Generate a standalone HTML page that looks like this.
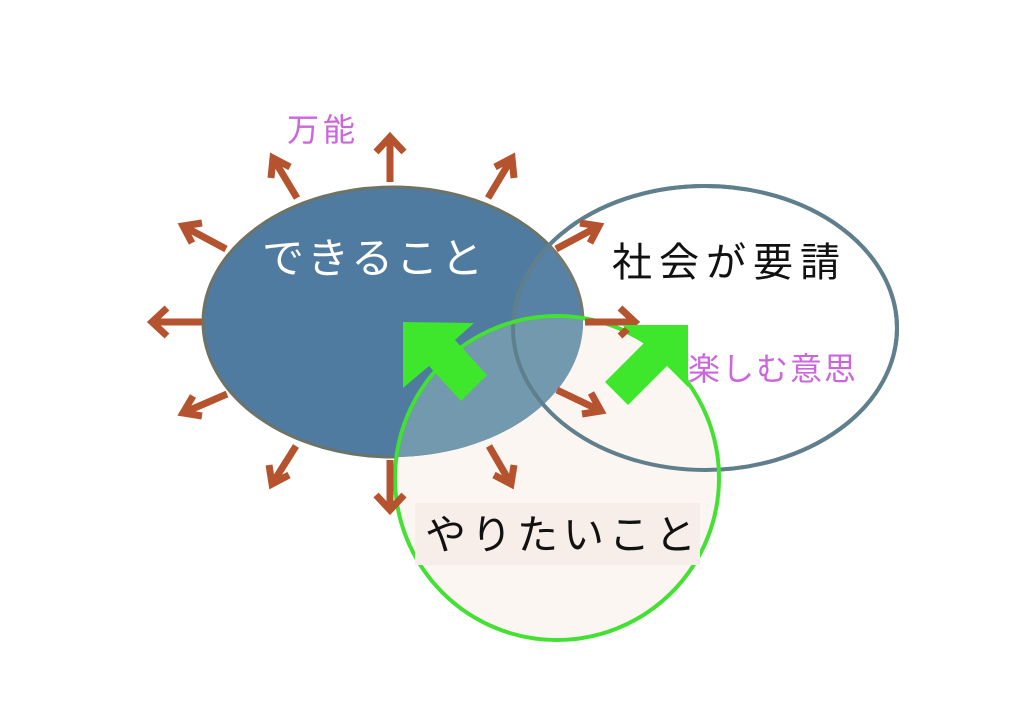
<!DOCTYPE html>
<html><head><meta charset="utf-8"><style>
body{margin:0;background:#fff;}
svg{display:block}
text{font-family:"Liberation Sans","Noto Sans CJK JP",sans-serif;}
</style></head><body>
<svg width="1024" height="724" viewBox="0 0 1024 724">
<ellipse cx="393" cy="322" rx="190" ry="135" fill="#4f7ba1" stroke="#6d7366" stroke-width="3"/>
<ellipse cx="705" cy="328" rx="192" ry="142" fill="rgba(255,255,255,0.05)" stroke="#5f7f8c" stroke-width="4"/>
<clipPath id="c"><ellipse cx="393" cy="322" rx="190" ry="135"/></clipPath>
<mask id="m"><rect width="1024" height="724" fill="#fff"/><ellipse cx="393" cy="322" rx="190" ry="135" fill="#000"/></mask>
<circle cx="557" cy="478" r="160" fill="#fcf6f3" mask="url(#m)"/>
<circle cx="557" cy="478" r="160" fill="#7399ae" clip-path="url(#c)"/>
<ellipse cx="705" cy="328" rx="192" ry="142" fill="none" stroke="#5f7f8c" stroke-width="4"/>
<circle cx="557" cy="478" r="162" fill="none" stroke="#44e033" stroke-width="4"/>
<rect x="415" y="503" width="285" height="62" fill="#f8eee9"/>
<g stroke="#b5532f" stroke-width="7" fill="none" stroke-linecap="butt">
<path d="M390,182 L390,137 M376,152 L390,137 L404,152"/>
<path d="M297,198 L273,158 M271,178 L273,158 L290,167"/>
<path d="M488,198 L512,158 M514,178 L512,158 L495,167"/>
<path d="M226,249 L183,226 M192,243 L183,226 L202,223"/>
<path d="M556,249 L599,226 M590,243 L599,226 L580,223"/>
<path d="M202,322 L152,322 M167,308 L152,322 L167,336"/>
<path d="M585,322 L635,322 M620,308 L635,322 L620,336"/>
<path d="M227,394 L183,413 M193,396 L183,413 L202,416"/>
<path d="M557,390 L601,411 M591,393 L601,411 L582,414"/>
<path d="M296,446 L272,484 M269,465 L272,484 L289,475"/>
<path d="M489,446 L511,484 M514,465 L511,484 L494,475"/>
<path d="M390,460 L390,510 M376,495 L390,510 L404,495"/>
</g>
<g fill="#3ee72c">
<polygon points="403,322 474,323 455,340 487,375 461,401 429,366 403,388"/>
<polygon points="688,325 688,387 667,366 628,405 605,382 644,343 622,325"/>
</g>
<text x="262" y="273" font-size="42" letter-spacing="3" fill="#fff">できること</text>
<text x="612" y="276" font-size="40" letter-spacing="7" fill="#111">社会が要請</text>
<text x="688" y="380" font-size="32" letter-spacing="2" fill="#cc66dd">楽しむ意思</text>
<text x="287" y="141" font-size="32" letter-spacing="4" fill="#cc66dd">万能</text>
<text x="425" y="549" font-size="41" letter-spacing="5" fill="#111">やりたいこと</text>
</svg>
</body></html>
